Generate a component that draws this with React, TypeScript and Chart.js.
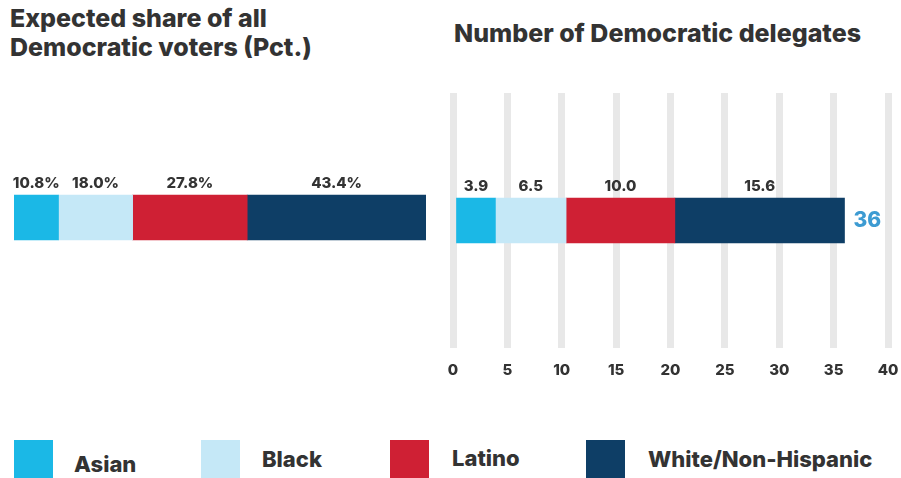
import React, { useEffect, useRef } from "react";
import { Chart, registerables } from "chart.js";

Chart.register(...registerables);

const groups = ["Asian", "Black", "Latino", "White/Non-Hispanic"];
const groupColors = ["#1bb8e6", "#c5e8f7", "#cf2034", "#0e3e66"];
const voterShare = [10.8, 18.0, 27.8, 43.4];
const delegates = [3.9, 6.5, 10.0, 15.6];
const delegateTotal = 36;
const delegateAxisMax = 40;
const delegateAxisStep = 5;

const leftTitle = ["Expected share of all", "Democratic voters (Pct.)"];
const rightTitle = "Number of Democratic delegates";

const FONT = "Inter, 'Noto Sans', sans-serif";
const TEXT = "#333333";

function segmentLabels(format: (v: number) => string, total?: string) {
  return {
    id: "segLabels",
    afterDatasetsDraw(chart: any) {
      const ctx = chart.ctx;
      ctx.save();
      ctx.font = `800 15px ${FONT}`;
      ctx.fillStyle = TEXT;
      ctx.textAlign = "center";
      ctx.textBaseline = "alphabetic";
      let lastEnd = 0;
      let cy = 0;
      chart.data.datasets.forEach((ds: any, i: number) => {
        const meta = chart.getDatasetMeta(i);
        const el: any = meta.data[0];
        if (!el) return;
        const cx = (el.x + el.base) / 2;
        const top = el.y - el.height / 2;
        cy = el.y;
        ctx.fillText(format(ds.data[0]), cx, top - 7);
        lastEnd = Math.max(lastEnd, el.x);
      });
      if (total) {
        ctx.font = `800 21px ${FONT}`;
        ctx.fillStyle = "#3d9bd2";
        ctx.textAlign = "left";
        ctx.textBaseline = "middle";
        ctx.fillText(total, lastEnd + 9, cy);
      }
      ctx.restore();
    },
  };
}

function makeDatasets(values: number[]) {
  return values.map((v, i) => ({
    label: groups[i],
    data: [v],
    backgroundColor: groupColors[i],
    borderWidth: 0,
    barThickness: 45,
  }));
}

function ShareChart() {
  const ref = useRef<HTMLCanvasElement>(null);
  useEffect(() => {
    const chart = new Chart(ref.current!, {
      type: "bar",
      data: { labels: [""], datasets: makeDatasets(voterShare) },
      options: {
        indexAxis: "y",
        animation: false,
        responsive: false,
        layout: { padding: { left: 14, right: 14, top: 0, bottom: 0 } },
        plugins: { legend: { display: false }, tooltip: { enabled: false } },
        scales: {
          x: { stacked: true, min: 0, max: 100, display: false },
          y: { stacked: true, display: false },
        },
      },
      plugins: [segmentLabels((v) => v.toFixed(1) + "%")],
    });
    return () => chart.destroy();
  }, []);
  return (
    <canvas
      ref={ref}
      width={440}
      height={255}
      style={{ position: "absolute", left: 0, top: 90, width: 440, height: 255 }}
    />
  );
}

function DelegateChart() {
  const ref = useRef<HTMLCanvasElement>(null);
  useEffect(() => {
    const chart = new Chart(ref.current!, {
      type: "bar",
      data: { labels: [""], datasets: makeDatasets(delegates) },
      options: {
        indexAxis: "y",
        animation: false,
        responsive: false,
        layout: { padding: { left: 13, right: 13, top: 0, bottom: 0 } },
        plugins: { legend: { display: false }, tooltip: { enabled: false } },
        scales: {
          x: {
            stacked: true,
            min: 0,
            max: delegateAxisMax,
            afterFit: (scale: any) => {
              scale.height = 42;
              scale.paddingLeft = 0;
              scale.paddingRight = 0;
            },
            ticks: {
              stepSize: delegateAxisStep,
              color: TEXT,
              font: { family: FONT, weight: "800", size: 15 },
              padding: 13,
              maxRotation: 0,
            },
            grid: { color: "#e8e8e8", lineWidth: 7, drawTicks: false },
            border: { display: false },
          },
          y: { stacked: true, display: false },
        },
      },
      plugins: [segmentLabels((v) => v.toFixed(1), String(delegateTotal))],
    });
    return () => chart.destroy();
  }, []);
  return (
    <canvas
      ref={ref}
      width={461}
      height={297}
      style={{ position: "absolute", left: 440, top: 93, width: 461, height: 297 }}
    />
  );
}

const legendX = [14, 201, 390, 586];
const legendTextX = [74, 262, 452, 648];
const legendTop = [450, 445, 444, 445];

export default function App() {
  const titleStyle: React.CSSProperties = {
    position: "absolute",
    fontFamily: FONT,
    fontWeight: 800,
    fontSize: 25,
    lineHeight: "29px",
    color: TEXT,
    whiteSpace: "nowrap",
  };
  return (
    <div
      style={{
        position: "absolute",
        left: 0,
        top: 0,
        width: 901,
        height: 478,
        background: "#ffffff",
        overflow: "hidden",
      }}
    >
      <div style={{ ...titleStyle, left: 10, top: 4 }}>
        {leftTitle[0]}
        <br />
        {leftTitle[1]}
      </div>
      <div style={{ ...titleStyle, left: 454, top: 19 }}>{rightTitle}</div>
      <ShareChart />
      <DelegateChart />
      {groups.map((g, i) => (
        <React.Fragment key={g}>
          <div
            style={{
              position: "absolute",
              left: legendX[i],
              top: 440,
              width: 39,
              height: 38,
              background: groupColors[i],
            }}
          />
          <div
            style={{
              position: "absolute",
              left: legendTextX[i],
              top: legendTop[i],
              fontFamily: FONT,
              fontWeight: 800,
              fontSize: 22,
              lineHeight: "28px",
              color: TEXT,
              whiteSpace: "nowrap",
            }}
          >
            {g}
          </div>
        </React.Fragment>
      ))}
    </div>
  );
}
